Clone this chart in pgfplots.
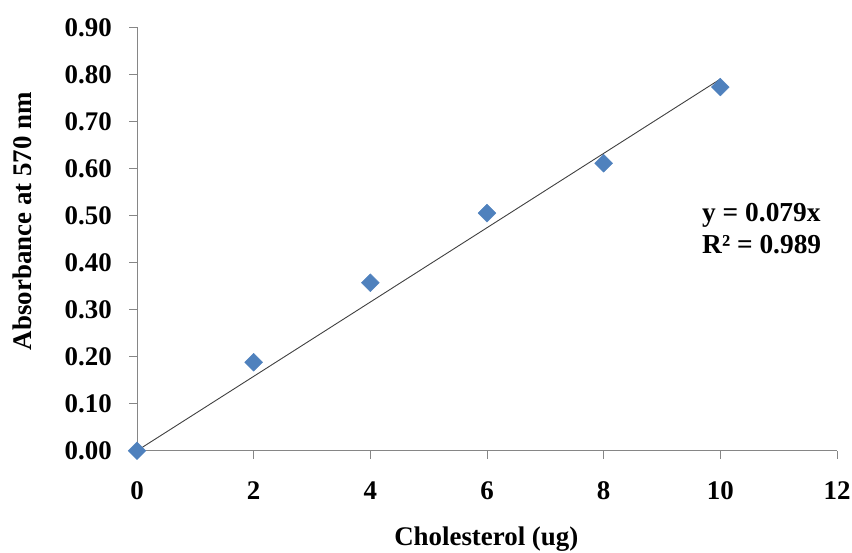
\documentclass[border=0pt]{standalone}
\usepackage{fontspec}
\setmainfont{Liberation Serif}
\usepackage{pgfplots}
\pgfplotsset{compat=1.18}

\definecolor{markblue}{HTML}{4F81BD}
\definecolor{axisgray}{HTML}{868686}
\definecolor{trendgray}{HTML}{404040}

\begin{document}
\begin{tikzpicture}
\begin{axis}[
  scale only axis,
  width=700bp, height=423.4bp,
  xmin=0, xmax=12, ymin=0, ymax=0.9,
  xtick={0,2,...,12},
  ytick={0,0.1,...,0.9},
  axis lines*=left,
  axis line style={axisgray, line width=0.9bp},
  tick style={axisgray, line width=0.9bp},
  tick align=outside,
  major tick length=8bp,
  font=\fontsize{27}{31}\selectfont\bfseries,
  /pgf/number format/assume math mode=true,
  yticklabel style={/pgf/number format/fixed, /pgf/number format/fixed zerofill,
    /pgf/number format/precision=2},
  yticklabel style={anchor=east, inner sep=0pt, xshift=-17bp},
  xticklabel style={anchor=north, inner sep=0pt, yshift=-23bp},
  xlabel={Cholesterol (ug)},
  ylabel={Absorbance at 570 nm},
  xlabel style={at={(axis description cs:0.499,-0.21)}, anchor=center},
  ylabel style={at={(axis description cs:-0.164,0.542)}, anchor=center},
  clip=false,
]
% linear fit through the origin: y = 0.079x
\addplot[trendgray, line width=0.9bp] coordinates {(0,0) (10,0.79)};
% measured absorbance
\addplot[only marks, mark=square*, mark size=6.3bp,
  mark options={rotate=45, fill=markblue, draw=markblue}]
  coordinates {(0,0) (2,0.188) (4,0.357) (6,0.505) (8,0.611) (10,0.773)};
\node[align=left, anchor=west, inner sep=0pt,
  font=\fontsize{27.5}{32}\selectfont\bfseries]
  at (axis cs:9.686,0.473) {y = 0.079x\\R² = 0.989};
\coordinate (O) at (rel axis cs:0,0);
\end{axis}
\pgfresetboundingbox
\path (O) ++(-137bp,-102.3bp) rectangle ++(852bp,553bp);
\end{tikzpicture}
\end{document}
